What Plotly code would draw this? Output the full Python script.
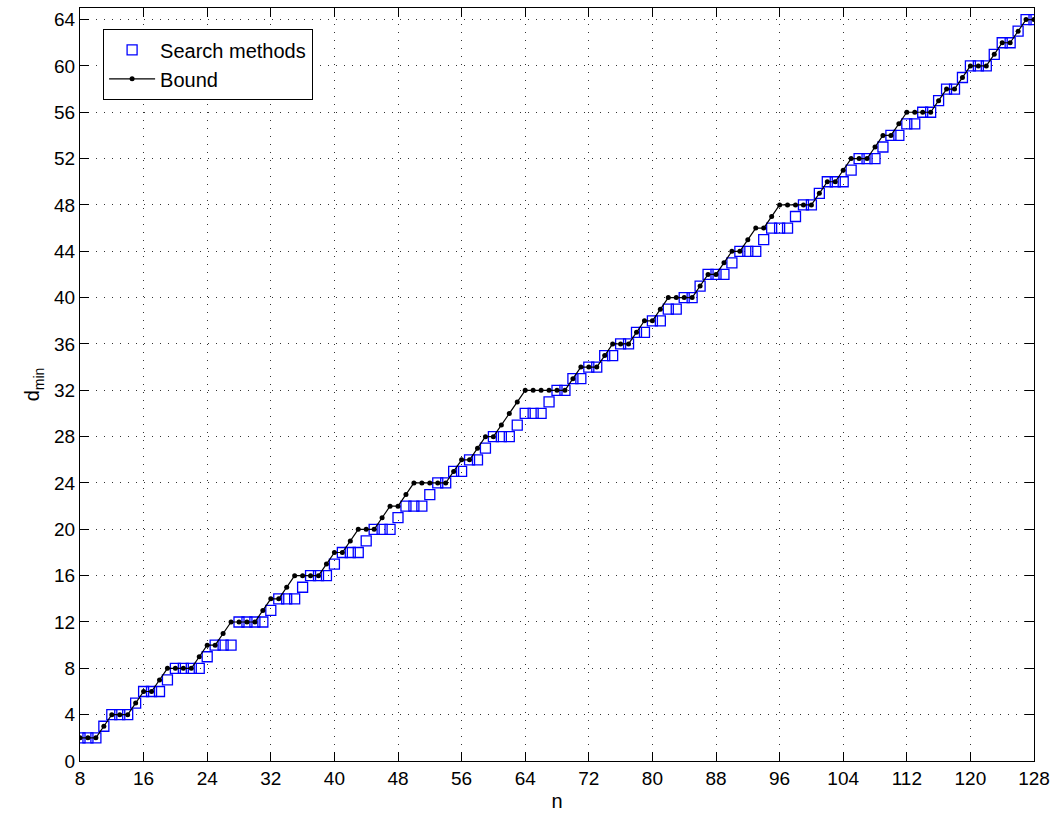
import plotly.graph_objects as go

n_values = list(range(8, 129))

search_dmin = [2, 2, 2, 3, 4, 4, 4, 5, 6, 6, 6, 7, 8, 8, 8, 8, 9, 10, 10, 10,
               12, 12, 12, 12, 13, 14, 14, 14, 15, 16, 16, 16, 17, 18, 18, 18,
               19, 20, 20, 20, 21, 22, 22, 22, 23, 24, 24, 25, 25, 26, 26, 27,
               28, 28, 28, 29, 30, 30, 30, 31, 32, 32, 33, 33, 34, 34, 35, 35,
               36, 36, 37, 37, 38, 38, 39, 39, 40, 40, 41, 42, 42, 42, 43, 44,
               44, 44, 45, 46, 46, 46, 47, 48, 48, 49, 50, 50, 50, 51, 52, 52,
               52, 53, 54, 54, 55, 55, 56, 56, 57, 58, 58, 59, 60, 60, 60, 61,
               62, 62, 63, 64, 64]

bound_dmin = [2, 2, 2, 3, 4, 4, 4, 5, 6, 6, 7, 8, 8, 8, 8, 9, 10, 10, 11, 12,
              12, 12, 12, 13, 14, 14, 15, 16, 16, 16, 16, 17, 18, 18, 19, 20,
              20, 20, 21, 22, 22, 23, 24, 24, 24, 24, 24, 25, 26, 26, 27, 28,
              28, 29, 30, 31, 32, 32, 32, 32, 32, 32, 33, 34, 34, 34, 35, 36,
              36, 36, 37, 38, 38, 39, 40, 40, 40, 40, 41, 42, 42, 43, 44, 44,
              45, 46, 46, 47, 48, 48, 48, 48, 48, 49, 50, 50, 51, 52, 52, 52,
              53, 54, 54, 55, 56, 56, 56, 56, 57, 58, 58, 59, 60, 60, 60, 61,
              62, 62, 63, 64, 64]

x_ticks = list(range(8, 129, 8))
y_ticks = list(range(0, 65, 4))

FONT = "Arial, Liberation Sans, sans-serif"

fig = go.Figure()
fig.add_trace(go.Scatter(
    x=n_values, y=search_dmin, mode="markers", name="Search methods",
    marker=dict(symbol="square-open", size=10, color="#0000FF",
                line=dict(width=1.3, color="#0000FF")),
))
fig.add_trace(go.Scatter(
    x=n_values, y=bound_dmin, mode="lines+markers", name="Bound",
    line=dict(color="black", width=1.2),
    marker=dict(symbol="circle", size=5, color="black"),
))

axis_common = dict(
    showline=True, linecolor="black", linewidth=1.2, mirror="ticks",
    ticks="inside", ticklen=9, tickcolor="black", tickwidth=1,
    showgrid=True, gridcolor="#333333", gridwidth=1, griddash="1px,7px",
    zeroline=False, tickfont=dict(family=FONT, size=19, color="black"),
)

fig.update_xaxes(range=[8, 128], tickvals=x_ticks,
                 title=dict(text="n", font=dict(family=FONT, size=20, color="black"), standoff=6),
                 **axis_common)
fig.update_yaxes(range=[0, 65], tickvals=y_ticks,
                 title=dict(text="d<sub>min</sub>", font=dict(family=FONT, size=20, color="black"), standoff=8),
                 **axis_common)

fig.update_layout(
    width=1052, height=816,
    margin=dict(l=80, r=18, t=8, b=55, autoexpand=False),
    plot_bgcolor="white", paper_bgcolor="white",
    font=dict(family=FONT, size=19, color="black"),
    legend=dict(x=0.024, y=0.972, xanchor="left", yanchor="top",
                bgcolor="white", bordercolor="black", borderwidth=1.2,
                font=dict(family=FONT, size=20, color="black"),
                itemwidth=46, tracegroupgap=0),
    showlegend=True,
)

fig.write_html("out.html")
